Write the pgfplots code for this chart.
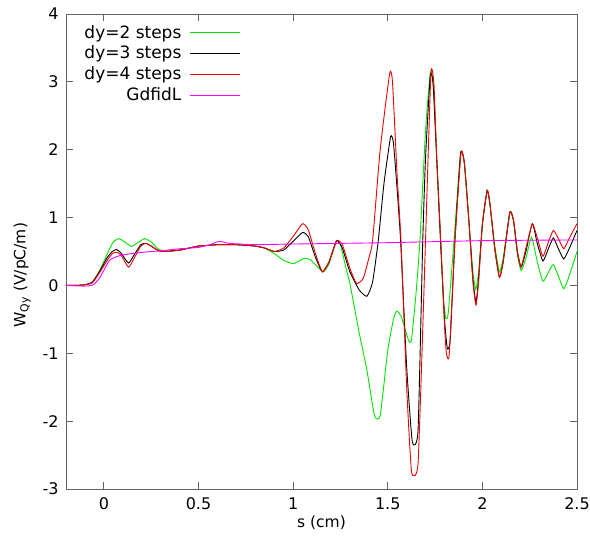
\documentclass[border=0pt]{standalone}
\usepackage{pgfplots}
\pgfplotsset{compat=1.18}
\usepackage{fontspec}
\setmainfont{DejaVu Sans}
\definecolor{gpgreen}{RGB}{0,230,0}
\definecolor{gpred}{RGB}{240,0,0}
\definecolor{gpmag}{RGB}{255,0,255}
\definecolor{framegray}{RGB}{100,100,100}
\begin{document}
\fontsize{15.5bp}{18bp}\selectfont
\begin{tikzpicture}
\begin{axis}[
  scale only axis, width=511bp, height=475bp,
  xmin=-0.2, xmax=2.5, ymin=-3, ymax=4,
  axis line style={framegray, line width=0.9bp},
  tick style={framegray, line width=0.9bp},
  tick align=inside, major tick length=7bp,
  xtick={0,0.5,1,1.5,2,2.5}, xticklabels={0,0.5,1,1.5,2,2.5},
  ytick={-3,-2,-1,0,1,2,3,4}, yticklabels={-3,-2,-1,0,1,2,3,4},
  xticklabel style={yshift=-3bp},
  yticklabel style={xshift=-2bp},
  tick label style={font=\fontsize{16bp}{18bp}\selectfont},
  label style={font=\fontsize{15.5bp}{18bp}\selectfont},
  xlabel={s (cm)},
  ylabel={W\textsubscript{Qy} (V/pC/m)},
  xlabel style={yshift=4bp},
  ylabel style={at={(axis description cs:-0.086,0.45)}, anchor=center},
  legend style={draw=none, fill=none, at={(0.026,0.985)}, anchor=north west,
    font=\fontsize{17bp}{19bp}\selectfont, row sep=1.5bp, /tikz/column sep=6bp},
  legend cell align=right,
  legend plot pos=right,
  legend image code/.code={\draw[#1] (0bp,0bp) -- (50bp,0bp);},
  every axis plot/.append style={line width=0.9bp, smooth, tension=0.3},
  clip=true,
]
\addplot[gpgreen] coordinates {
(-0.2,0) (-0.15,0) (-0.1,0.01) (-0.06,0.05) (-0.02,0.23) (0.02,0.48) (0.05,0.64)
(0.08,0.69) (0.11,0.64) (0.145,0.575) (0.18,0.63) (0.215,0.69) (0.25,0.64) (0.29,0.53)
(0.33,0.51) (0.4,0.52) (0.45,0.55) (0.5,0.58) (0.55,0.59) (0.6,0.6) (0.7,0.6)
(0.8,0.58) (0.85,0.55) (0.9,0.47) (0.95,0.37) (1.0,0.32) (1.03,0.36) (1.06,0.40)
(1.09,0.38) (1.12,0.3) (1.16,0.2) (1.19,0.32) (1.23,0.66) (1.25,0.6) (1.28,0.25)
(1.30,0.03) (1.35,-0.71) (1.39,-1.25) (1.43,-1.92) (1.46,-1.92) (1.50,-0.96)
(1.53,-0.5) (1.547,-0.38) (1.57,-0.45) (1.61,-0.81) (1.625,-0.81) (1.65,-0.1)
(1.67,0.66) (1.70,2.3) (1.725,3.13) (1.74,3.0) (1.76,1.8) (1.78,0.6) (1.795,-0.2)
(1.807,-0.49) (1.82,-0.4) (1.85,0.66) (1.885,1.95) (1.905,1.8) (1.93,0.9) (1.95,0.2)
(1.965,-0.06) (1.98,0.2) (2.0,0.9) (2.025,1.40) (2.04,1.2) (2.065,0.6) (2.09,0.2)
(2.11,0.4) (2.145,1.08) (2.165,0.95) (2.185,0.45) (2.205,0.22) (2.23,0.4) (2.26,0.71)
(2.29,0.35) (2.32,0.06) (2.35,0.2) (2.375,0.31) (2.40,0.15) (2.43,-0.05) (2.46,0.15)
(2.5,0.5)
};
\addlegendentry{dy=2 steps}
\addplot[black] coordinates {
(-0.2,0) (-0.15,0) (-0.1,0.01) (-0.06,0.05) (-0.02,0.22) (0.02,0.42) (0.045,0.5)
(0.067,0.53) (0.09,0.48) (0.13,0.33) (0.16,0.45) (0.195,0.6) (0.222,0.62) (0.25,0.58)
(0.29,0.51) (0.33,0.5) (0.4,0.52) (0.45,0.55) (0.5,0.58) (0.55,0.59) (0.6,0.6)
(0.7,0.6) (0.8,0.58) (0.85,0.55) (0.9,0.5) (0.95,0.52) (1.0,0.65) (1.05,0.78)
(1.08,0.72) (1.12,0.4) (1.155,0.2) (1.19,0.35) (1.23,0.66) (1.26,0.55) (1.30,0.2)
(1.35,-0.07) (1.39,-0.16) (1.42,0.05) (1.45,0.66) (1.48,1.5) (1.515,2.19) (1.53,2.1)
(1.55,1.4) (1.568,0.66) (1.60,-1.2) (1.63,-2.31) (1.66,-2.14) (1.685,0.66) (1.70,1.9)
(1.725,3.1) (1.74,2.95) (1.76,1.8) (1.78,0.6) (1.80,-0.5) (1.815,-0.93) (1.83,-0.8)
(1.855,0.66) (1.885,1.95) (1.905,1.8) (1.93,0.9) (1.95,0.1) (1.966,-0.25) (1.98,0.1)
(2.0,0.9) (2.025,1.40) (2.04,1.2) (2.065,0.55) (2.09,0.12) (2.11,0.35) (2.145,1.08)
(2.165,0.95) (2.185,0.5) (2.205,0.27) (2.23,0.5) (2.264,0.91) (2.29,0.62) (2.32,0.36)
(2.35,0.55) (2.375,0.70) (2.40,0.55) (2.43,0.39) (2.46,0.55) (2.5,0.81)
};
\addlegendentry{dy=3 steps}
\addplot[gpred] coordinates {
(-0.2,0) (-0.15,0) (-0.1,0.01) (-0.06,0.04) (-0.02,0.2) (0.02,0.38) (0.045,0.47)
(0.067,0.49) (0.09,0.45) (0.13,0.27) (0.16,0.4) (0.195,0.58) (0.222,0.62) (0.25,0.58)
(0.29,0.51) (0.33,0.5) (0.4,0.52) (0.45,0.55) (0.5,0.58) (0.55,0.59) (0.6,0.6)
(0.7,0.6) (0.8,0.58) (0.85,0.55) (0.9,0.5) (0.95,0.55) (1.0,0.72) (1.05,0.91)
(1.08,0.82) (1.12,0.45) (1.155,0.2) (1.19,0.35) (1.23,0.66) (1.26,0.6) (1.30,0.25)
(1.335,0.03) (1.37,0.1) (1.40,0.4) (1.42,0.66) (1.46,2.0) (1.51,3.12) (1.525,3.0)
(1.55,1.6) (1.57,0.66) (1.60,-1.5) (1.626,-2.75) (1.66,-2.63) (1.69,-0.2) (1.70,0.7)
(1.728,3.12) (1.744,2.97) (1.76,1.8) (1.78,0.66) (1.80,-0.6) (1.81,-1.0) (1.825,-1.02)
(1.855,0.66) (1.887,1.95) (1.905,1.8) (1.93,0.9) (1.95,0.05) (1.966,-0.29) (1.98,0.05)
(2.0,0.9) (2.026,1.40) (2.04,1.2) (2.065,0.55) (2.09,0.12) (2.11,0.35) (2.146,1.08)
(2.165,0.95) (2.185,0.5) (2.204,0.27) (2.23,0.55) (2.264,0.91) (2.29,0.7) (2.32,0.43)
(2.35,0.65) (2.375,0.81) (2.40,0.7) (2.43,0.54) (2.46,0.7) (2.5,0.91)
};
\addlegendentry{dy=4 steps}
\addplot[gpmag] coordinates {
(-0.2,0) (-0.1,-0.01) (-0.056,0.01) (-0.02,0.12) (0.03,0.37) (0.085,0.44) (0.15,0.47)
(0.21,0.49) (0.3,0.51) (0.4,0.54) (0.5,0.56) (0.56,0.6) (0.61,0.65) (0.66,0.62)
(0.72,0.61) (0.8,0.6) (1.0,0.61) (1.5,0.63) (2.0,0.66) (2.5,0.67)
};
\addlegendentry{GdfidL}
\end{axis}
\pgfresetboundingbox
\path ([xshift=-66bp,yshift=-51bp]current axis.south west) rectangle ([xshift=13bp,yshift=14bp]current axis.north east);
\end{tikzpicture}
\end{document}
